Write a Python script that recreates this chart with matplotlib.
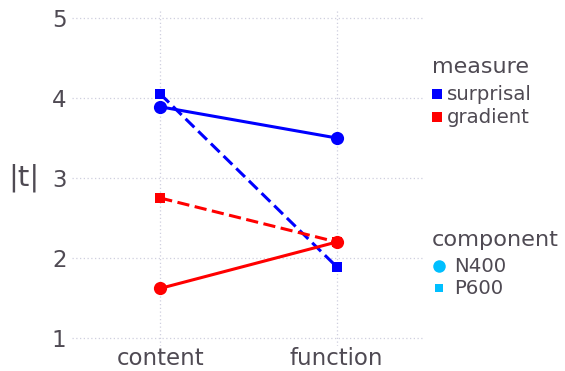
import matplotlib
matplotlib.use("Agg")
import matplotlib.pyplot as plt
from matplotlib.lines import Line2D

plt.rcParams['font.family'] = ['DejaVu Sans']

categories = ["content", "function"]
surprisal_n400 = [3.89, 3.50]
surprisal_p600 = [4.05, 1.89]
gradient_n400 = [1.62, 2.20]
gradient_p600 = [2.75, 2.20]

measures = ["surprisal", "gradient"]
measure_colors = ["#0000ff", "#ff0000"]
components = ["N400", "P600"]
y_ticks = [1, 2, 3, 4, 5]

text_col = "#4f4a53"
W, H = 565, 371
fig = plt.figure(figsize=(W / 100, H / 100), dpi=100)
ax = fig.add_axes([72 / W, 1 - 346 / H, (425 - 72) / W, (346 - 10) / H])

x = list(range(len(categories)))
dash = (0, (4, 1.8))
series = [
    (surprisal_n400, measure_colors[0], "-", "o", 9.5),
    (surprisal_p600, measure_colors[0], dash, "s", 7),
    (gradient_n400, measure_colors[1], "-", "o", 9.5),
    (gradient_p600, measure_colors[1], dash, "s", 7),
]
for vals, col, ls, mk, ms in series:
    ax.plot(x, vals, color=col, linestyle=ls, linewidth=2.2,
            marker=mk, markersize=ms, markeredgewidth=0, zorder=3)

ax.set_xlim(-0.5, 1.5)
ax.set_ylim(0.9, 5.1)
ax.set_xticks(x)
ax.set_xticklabels(categories)
ax.set_yticks(y_ticks)
ax.set_yticklabels([str(t) for t in y_ticks])
ax.tick_params(length=0, labelsize=16.5, colors=text_col, pad=4)
ax.tick_params(axis='x', pad=1)
ax.grid(True, linestyle=(0, (1, 2)), color="#cfcfdf", linewidth=0.9, zorder=0)
for s in ax.spines.values():
    s.set_visible(False)
ax.set_ylabel("|t|", fontsize=21, color=text_col, rotation=0, labelpad=20, va="center")

# legend: measure
fig.text(432 / W, 1 - 67 / H, "measure", fontsize=16, color=text_col, va="center", ha="left")
for i, (lab, col) in enumerate(zip(measures, measure_colors)):
    yy = 1 - (94 + 23 * i) / H
    fig.add_artist(Line2D([437 / W], [yy], marker="s", markersize=6.5, color=col,
                          markeredgewidth=0, linestyle="none", transform=fig.transFigure))
    fig.text(447 / W, yy, lab, fontsize=14.2, color=text_col, va="center", ha="left")

# legend: component
fig.text(432 / W, 1 - 240 / H, "component", fontsize=16.2, color=text_col, va="center", ha="left")
for i, (lab, mk, ms) in enumerate(zip(components, ["o", "s"], [9, 6])):
    yy = 1 - (266 + 22 * i) / H
    fig.add_artist(Line2D([439 / W], [yy], marker=mk, markersize=ms, color="#00bfff",
                          markeredgewidth=0, linestyle="none", transform=fig.transFigure))
    fig.text(454 / W, yy, lab, fontsize=14.2, color=text_col, va="center", ha="left")

fig.savefig("out.png", dpi=100)
